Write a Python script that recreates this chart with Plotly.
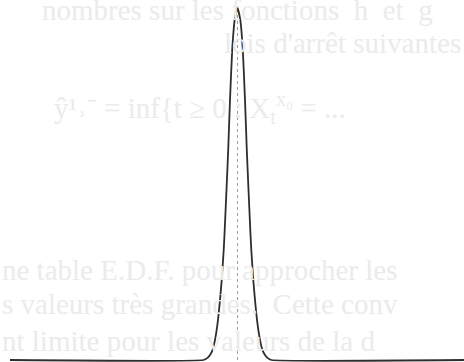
import plotly.graph_objects as go

# half-profile of the peak (x in tenths of the page width unit,
# height as a fraction of the peak)
HALF_X = [0.0, 0.28, 0.53, 0.75, 0.93, 1.08, 1.28, 1.38, 1.58, 1.75, 1.95, 2.25, 2.5, 2.75, 3.0, 3.4]
HALF_Y = [1.0, 0.966, 0.881, 0.739, 0.597, 0.497, 0.369, 0.3125, 0.227, 0.170, 0.114, 0.057, 0.028, 0.014, 0.006, 0.0]
X_LEFT_END = -22.75
X_RIGHT_END = 22.65

# faint show-through from the other side of the page
BLEED_TEXT = [
    "nombres sur les fonctions  h  et  g",
    "lois d'arrêt suivantes",
    "ŷ¹˒⁻ = inf{t ≥ 0 : X<sub>t</sub><sup>x₀</sup> = ...",
    "ne table E.D.F. pour approcher les",
    "s valeurs très grandes.  Cette conv",
    "nt limite pour les valeurs de la d",
]
BLEED_POS = [(40, 10), (222, 43), (52, 108), (0, 270), (0, 304), (0, 341)]

xs = [X_LEFT_END] + [-v for v in HALF_X[::-1]] + HALF_X[1:] + [X_RIGHT_END]
ys = [0.0] + HALF_Y[::-1] + HALF_Y[1:] + [0.0]

W, H = 464, 362
fig = go.Figure()

for txt, (px, py) in zip(BLEED_TEXT, BLEED_POS):
    fig.add_annotation(text=txt, xref="paper", yref="paper", x=px / W, y=1 - py / H,
                       xanchor="left", yanchor="middle", showarrow=False,
                       font=dict(family="Liberation Serif", size=29, color="#ebebeb"))

fig.add_trace(go.Scatter(x=[0, 0], y=[0, 1.0], mode="lines",
                         line=dict(color="#9a9a9a", width=1, dash="dot"),
                         showlegend=False, hoverinfo="skip"))
fig.add_trace(go.Scatter(x=xs, y=ys, mode="lines",
                         line=dict(color="#2e2e2e", width=1.8, shape="spline", smoothing=0.4),
                         showlegend=False, hoverinfo="skip"))

fig.update_layout(
    width=W, height=H,
    margin=dict(l=0, r=0, t=0, b=0),
    plot_bgcolor="white", paper_bgcolor="white",
    xaxis=dict(range=[-23.75, 22.65], visible=False, fixedrange=True),
    yaxis=dict(range=[-2 / 352, 360 / 352], visible=False, fixedrange=True),
    hovermode=False,
)
fig.write_html("out.html", config={"displayModeBar": False},
               post_script="document.body.style.margin='0';")
